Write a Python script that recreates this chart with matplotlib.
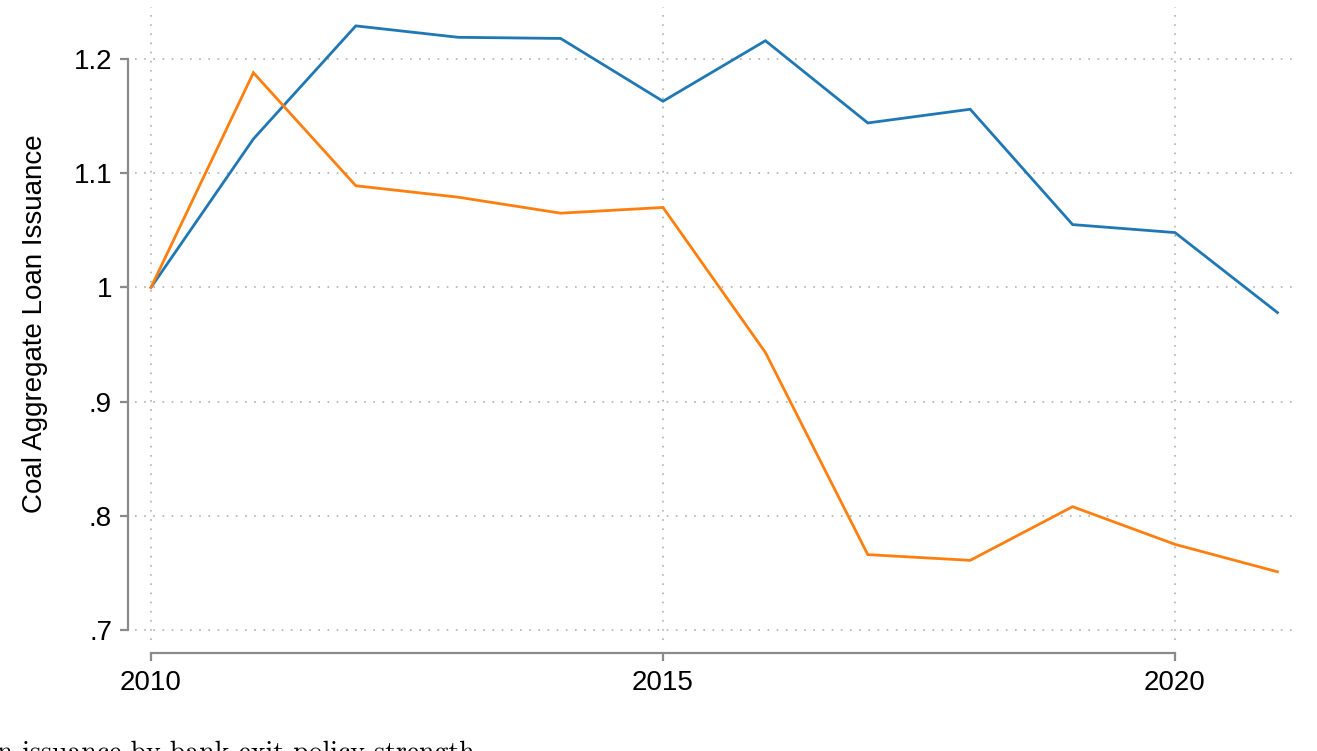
import matplotlib
matplotlib.use("Agg")
import matplotlib.pyplot as plt

years = [2010, 2011, 2012, 2013, 2014, 2015, 2016, 2017, 2018, 2019, 2020, 2021]
blue_series = [1.000, 1.130, 1.229, 1.219, 1.218, 1.163, 1.216, 1.144, 1.156, 1.055, 1.048, 0.978]
orange_series = [1.000, 1.188, 1.089, 1.079, 1.065, 1.070, 0.943, 0.766, 0.761, 0.808, 0.775, 0.751]
y_ticks = [0.7, 0.8, 0.9, 1.0, 1.1, 1.2]
y_tick_labels = [".7", ".8", ".9", "1", "1.1", "1.2"]
x_ticks = [2010, 2015, 2020]
y_label = "Coal Aggregate Loan Issuance"
caption = "loan issuance by bank exit policy strength"

W, H = 1317, 751
fig = plt.figure(figsize=(W / 100, H / 100), dpi=100)
plt.rcParams['font.family'] = ['Liberation Sans', 'DejaVu Sans']

left, right, top, bottom = 135, 1297, 7, 640
ax = fig.add_axes([left / W, (H - bottom) / H, (right - left) / W, (bottom - top) / H])

ax.plot(years, blue_series, color="#1f77b4", lw=2.0, solid_joinstyle='miter')
ax.plot(years, orange_series, color="#ff7f0e", lw=2.0, solid_joinstyle='miter')

ax.set_xlim(2010 - 16 / 102.4, 2010 + 1146 / 102.4)
ax.set_ylim(0.7 - 10 / 1142, 1.2 + 52 / 1142)

ax.set_xticks(x_ticks)
ax.set_xticklabels([str(t) for t in x_ticks])
ax.set_yticks(y_ticks)
ax.set_yticklabels(y_tick_labels)

ax.grid(True, color="#b0b0b0", linestyle=(0, (1, 4.5)), linewidth=1.2)

for s in ["top", "right"]:
    ax.spines[s].set_visible(False)
gray = "#8a8a8a"
ax.spines["left"].set_position(("outward", 5))
ax.spines["left"].set_bounds(0.7, 1.2)
ax.spines["bottom"].set_position(("outward", 9))
ax.spines["bottom"].set_bounds(2010, 2020)
for s in ["left", "bottom"]:
    ax.spines[s].set_color(gray)
    ax.spines[s].set_linewidth(1.6)

ax.tick_params(axis="both", colors=gray, width=1.6, length=5.5, labelcolor="black", labelsize=20)
ax.tick_params(axis="x", pad=7)
ax.tick_params(axis="y", pad=6)

ax.set_ylabel(y_label, fontsize=20, labelpad=18)

fig.text(475 / W, -10 / H, caption, ha="right", va="baseline", fontsize=20, family="cmr10")

fig.savefig("out.png", dpi=100)
